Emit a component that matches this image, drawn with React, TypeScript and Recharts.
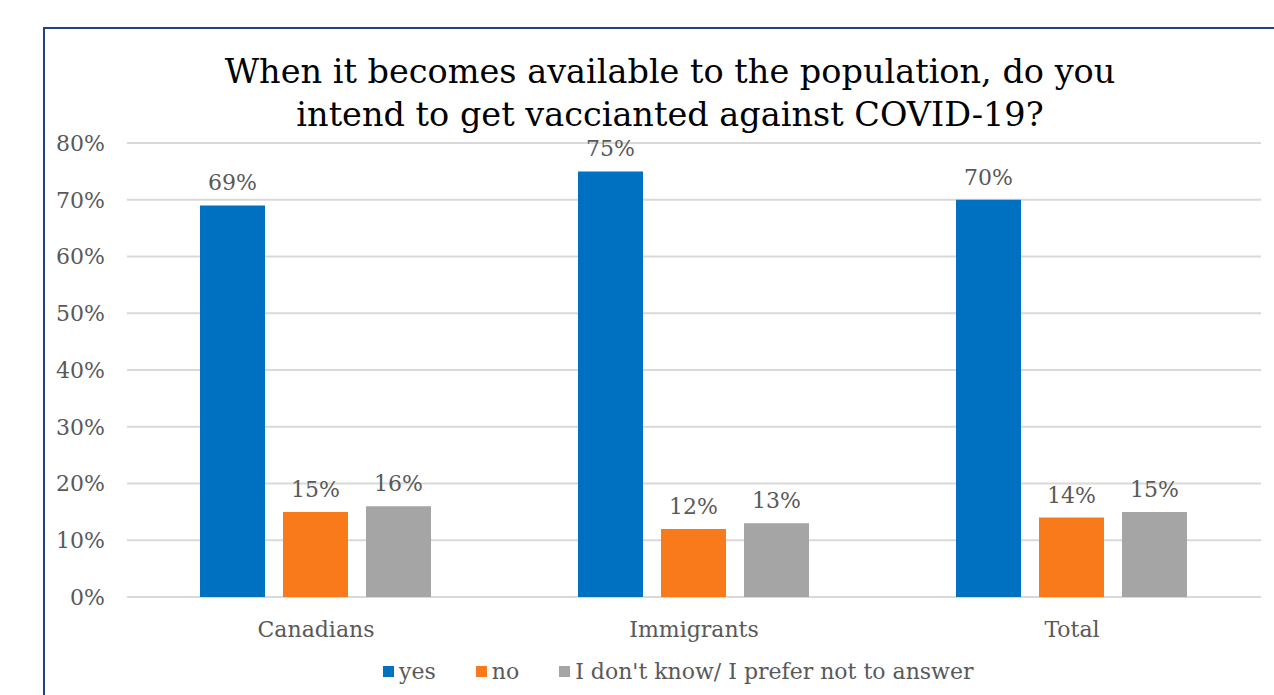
import { BarChart, Bar, XAxis, YAxis, CartesianGrid, LabelList } from 'recharts'

const categories = ['Canadians', 'Immigrants', 'Total']
const yesValues  = [69, 75, 70]
const noValues   = [15, 12, 14]
const dkValues   = [16, 13, 15]
const yTicks     = [0, 10, 20, 30, 40, 50, 60, 70, 80]

const seriesNames = ['yes', 'no', "I don't know/ I prefer not to answer"]
const seriesColors = ['#0070C0', '#F97A1B', '#A5A5A5']

const data = categories.map((c, i) => ({
  name: c, yes: yesValues[i], no: noValues[i], dk: dkValues[i],
}))

const font = '"DejaVu Serif", serif'
const textGrey = '#595959'

export default function App() {
  const pct = (v: any) => `${v}%`
  return (
    <div style={{ position: 'absolute', left: 0, top: 0, width: 1274, height: 695, overflow: 'hidden', background: '#fff' }}>
      {/* frame */}
      <div style={{ position: 'absolute', left: 43, top: 27, width: 1300, height: 800, border: '2px solid #24408A', boxSizing: 'border-box' }} />
      <div style={{
        position: 'absolute', left: 0, top: 50, width: 1340, textAlign: 'center',
        fontFamily: font, fontSize: 33.5, lineHeight: '43px', color: '#000',
      }}>
        When it becomes available to the population, do you<br />
        intend to get vaccianted against COVID-19?
      </div>
      <div style={{ position: 'absolute', left: 0, top: 0 }}>
        <BarChart
          width={1274} height={695} data={data}
          margin={{ top: 143, right: 13, bottom: 68, left: 0 }}
          barCategoryGap={73} barGap={18}
        >
          <CartesianGrid vertical={false} stroke="#D9D9D9" strokeWidth={2} />
          <XAxis
            dataKey="name" axisLine={false} tickLine={false} tickSize={0} tickMargin={24}
            height={30}
            tick={{ fontFamily: font, fontSize: 22, fill: textGrey }}
          />
          <YAxis
            width={127} domain={[0, 80]} ticks={yTicks} tickFormatter={pct}
            axisLine={false} tickLine={false} tickSize={0} tickMargin={22}
            tick={{ fontFamily: font, fontSize: 22, fill: textGrey }}
          />
          {(['yes', 'no', 'dk'] as const).map((k, i) => (
            <Bar key={k} dataKey={k} name={seriesNames[i]} fill={seriesColors[i]} isAnimationActive={false}>
              <LabelList dataKey={k} position="top" offset={15} formatter={pct}
                style={{ fontFamily: font, fontSize: 22, fill: textGrey }} />
            </Bar>
          ))}
        </BarChart>
      </div>
      {/* legend */}
      <div style={{
        position: 'absolute', left: 383, top: 659, display: 'flex', alignItems: 'center',
        fontFamily: font, fontSize: 22, color: textGrey, whiteSpace: 'nowrap',
      }}>
        {seriesNames.map((n, i) => (
          <div key={n} style={{ display: 'flex', alignItems: 'center', marginRight: i === 0 ? 40 : 40 }}>
            <span style={{ display: 'inline-block', width: 11, height: 11, background: seriesColors[i], marginRight: 5 }} />
            <span>{n}</span>
          </div>
        ))}
      </div>
    </div>
  )
}
